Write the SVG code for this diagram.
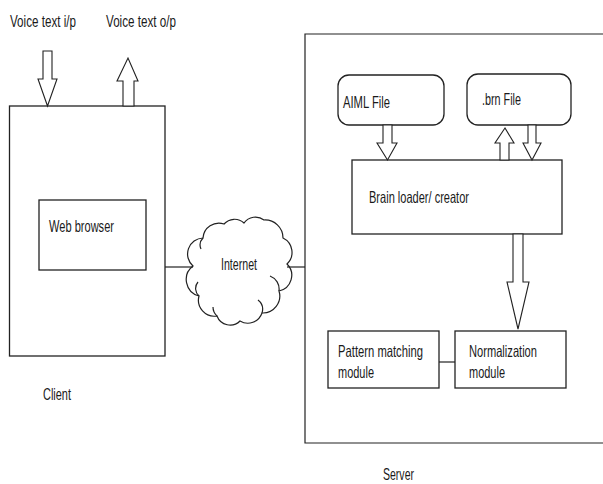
<svg xmlns="http://www.w3.org/2000/svg" width="603" height="484" viewBox="0 0 603 484">
<style>
.box{fill:#fff;stroke:#222;stroke-width:1.3}
.arr{fill:#fff;stroke:#222;stroke-width:1.1;stroke-linejoin:miter}
.ln{fill:none;stroke:#222;stroke-width:1.2}
text{font-family:"Liberation Sans",Arial,sans-serif;font-size:16.5px;fill:#1a1a1a}
</style>
<rect width="603" height="484" fill="#fff"/>
<g id="server">
<path class="ln" d="M603 34 H305 V443 H603" stroke-width="1.6" stroke="#333"/>
<text x="383" y="480" textLength="31" lengthAdjust="spacingAndGlyphs">Server</text>
</g>
<g id="client">
<rect class="box" x="9.5" y="106" width="155.5" height="250"/>
<text x="43" y="400" textLength="28" lengthAdjust="spacingAndGlyphs">Client</text>
</g>
<g id="web-browser">
<rect class="box" x="39" y="200" width="107" height="70"/>
<text x="49" y="232" textLength="65" lengthAdjust="spacingAndGlyphs">Web browser</text>
</g>
<g id="voice-in">
<text x="10" y="27" textLength="66" lengthAdjust="spacingAndGlyphs">Voice text i/p</text>
</g>
<g id="voice-out">
<text x="106" y="27" textLength="70" lengthAdjust="spacingAndGlyphs">Voice text o/p</text>
</g>
<g id="aiml-file">
<rect class="box" x="338" y="75" width="106" height="50" rx="11" ry="11"/>
<text x="343" y="108" textLength="47" lengthAdjust="spacingAndGlyphs">AIML File</text>
</g>
<g id="brn-file">
<rect class="box" x="467" y="74" width="104" height="51" rx="11" ry="11"/>
<text x="482" y="105" textLength="39" lengthAdjust="spacingAndGlyphs">.brn File</text>
</g>
<g id="brain-loader">
<rect class="box" x="352" y="160" width="210" height="74"/>
<text x="369" y="203" textLength="100" lengthAdjust="spacingAndGlyphs">Brain loader/ creator</text>
</g>
<g id="pattern-matching">
<rect class="box" x="328" y="331" width="111" height="57"/>
<text x="338" y="357" textLength="85" lengthAdjust="spacingAndGlyphs">Pattern matching</text>
<text x="338" y="378" textLength="36" lengthAdjust="spacingAndGlyphs">module</text>
</g>
<g id="normalization">
<rect class="box" x="455" y="331" width="111" height="57"/>
<text x="469" y="357" textLength="68" lengthAdjust="spacingAndGlyphs">Normalization</text>
<text x="469" y="378" textLength="36" lengthAdjust="spacingAndGlyphs">module</text>
</g>
<g id="internet">
<path class="ln" d="M193 266 A16 16 0 0 1 203 238 A16 16 0 0 1 224 224 A14 14 0 0 1 244 223 A14 14 0 0 1 264 220 A18 18 0 0 1 283 238 A16 16 0 0 1 287 264 A16 16 0 0 1 279 291 A17 17 0 0 1 262 313 A15 15 0 0 1 240 321 A14 14 0 0 1 217 316 A16 16 0 0 1 199 296 A17 17 0 0 1 193 266 Z" style="fill:#fff"/>
<path class="ln" d="M199 296 A10 10 0 0 1 198 282 M217 316 A12 12 0 0 1 213 307 M262 313 A12 12 0 0 0 258 300 M279 291 A14 14 0 0 0 270 276 M203 238 A10 10 0 0 0 201 249"/>
<text x="221" y="270" textLength="36" lengthAdjust="spacingAndGlyphs">Internet</text>
</g>
<g id="connectors">
<line class="ln" x1="165" y1="267" x2="193" y2="267"/>
<line class="ln" x1="287" y1="267" x2="305" y2="267"/>
<line class="ln" x1="439" y1="362" x2="455" y2="362"/>
<path class="arr" d="M43 51 H52 V79 H57 L47.5 106 L38 79 H43 Z"/>
<path class="arr" d="M123 106 V81 H117 L128 58 L138 81 H134 V106 Z"/>
<path class="arr" d="M383 125 H392 V143 H397 L387.5 160 L377 143 H383 Z"/>
<path class="arr" d="M500 160 V143 H495 L505 128 L514 143 H509 V160 Z"/>
<path class="arr" d="M528 125 H536 V143 H541 L532 160 L523 143 H528 Z"/>
<path class="arr" d="M513 234 H523 V282 H529 L518 329 L507 282 H513 Z"/>
</g>
</svg>
